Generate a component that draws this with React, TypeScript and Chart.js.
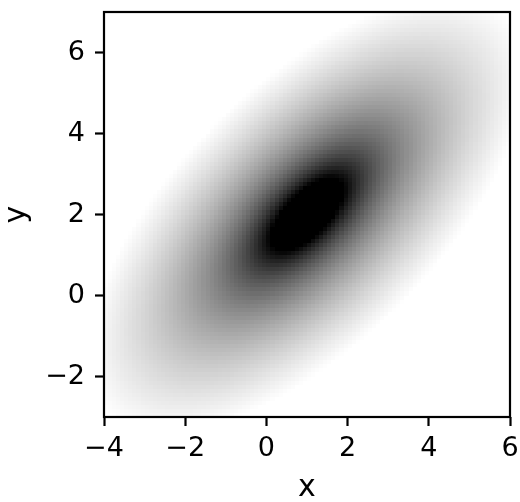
import React, { useEffect, useRef } from "react";
import { Chart, registerables } from "chart.js";

Chart.register(...registerables);

// Axis extents and tick labels
const xRange = [-4, 6];
const yRange = [-3, 7];
const xTicks = [-4, -2, 0, 2, 4, 6];
const yTicks = [-2, 0, 2, 4, 6];

// Density field parameters
const gridCells = [100, 100];
const centre = [1, 2];
const correlation = 0.65;
const blackRadius = 0.9; // Mahalanobis radius where the shading saturates to black
const whiteRadius = 5.4; // radius where it fades to white

function shade(x: number, y: number): number {
  const u = x - centre[0];
  const v = y - centre[1];
  const r = correlation;
  const d2 = (u * u - 2 * r * u * v + v * v) / (1 - r * r);
  const d = Math.sqrt(d2);
  if (d <= blackRadius) return 1;
  if (d >= whiteRadius) return 0;
  return Math.log(whiteRadius / d) / Math.log(whiteRadius / blackRadius);
}

const fmt = (v: number) => (v < 0 ? "\u2212" + Math.abs(v) : String(v));

const heatmapPlugin = {
  id: "heatmap",
  beforeDatasetsDraw(chart: any) {
    const { ctx, chartArea, scales } = chart;
    const xs = scales.x;
    const ys = scales.y;
    ctx.save();
    ctx.beginPath();
    ctx.rect(chartArea.left, chartArea.top, chartArea.right - chartArea.left, chartArea.bottom - chartArea.top);
    ctx.clip();
    const [nx, ny] = gridCells;
    const dx = (xRange[1] - xRange[0]) / nx;
    const dy = (yRange[1] - yRange[0]) / ny;
    for (let i = 0; i < nx; i++) {
      const x0 = xRange[0] + i * dx;
      const px0 = Math.round(xs.getPixelForValue(x0));
      const px1 = Math.round(xs.getPixelForValue(x0 + dx));
      for (let j = 0; j < ny; j++) {
        const y0 = yRange[0] + j * dy;
        const py0 = Math.round(ys.getPixelForValue(y0));
        const py1 = Math.round(ys.getPixelForValue(y0 + dy));
        const k = shade(x0 + dx / 2, y0 + dy / 2);
        const g = Math.round(255 * (1 - k));
        ctx.fillStyle = `rgb(${g},${g},${g})`;
        ctx.fillRect(px0, py1, px1 - px0, py0 - py1);
      }
    }
    ctx.restore();
  },
  afterDatasetsDraw(chart: any) {
    const { ctx, chartArea } = chart;
    ctx.save();
    ctx.strokeStyle = "#000";
    ctx.lineWidth = 2.2;
    ctx.strokeRect(chartArea.left, chartArea.top, chartArea.right - chartArea.left, chartArea.bottom - chartArea.top);
    ctx.restore();
  },
};

const tickFont = { family: "DejaVu Sans", size: 27 };
const titleFont = { family: "DejaVu Sans", size: 30, lineHeight: 1 };

export default function App() {
  const ref = useRef<HTMLCanvasElement | null>(null);
  useEffect(() => {
    if (!ref.current) return;
    const chart = new Chart(ref.current, {
      type: "scatter",
      data: { datasets: [{ data: [] }] },
      options: {
        animation: false,
        responsive: false,
        devicePixelRatio: 1,
        layout: { padding: { left: 0, right: 10, top: 12, bottom: 0 } },
        plugins: { legend: { display: false }, tooltip: { enabled: false } },
        scales: {
          x: {
            type: "linear",
            min: xRange[0],
            max: xRange[1],
            afterBuildTicks: (s: any) => {
              s.ticks = xTicks.map((v) => ({ value: v }));
            },
            afterFit: (s: any) => {
              s.height = 85;
              s.paddingLeft = 0;
              s.paddingRight = 0;
            },
            border: { display: false },
            grid: { drawOnChartArea: false, drawTicks: true, tickLength: 9, tickWidth: 2.2, tickColor: "#000" },
            ticks: { color: "#000", font: tickFont, padding: 7, maxRotation: 0, autoSkip: false, callback: (v: any) => fmt(Number(v)) },
            title: { display: true, text: "x", color: "#000", font: titleFont, padding: { top: 0, bottom: -1 } },
          },
          y: {
            type: "linear",
            min: yRange[0],
            max: yRange[1],
            afterBuildTicks: (s: any) => {
              s.ticks = yTicks.map((v) => ({ value: v }));
            },
            afterFit: (s: any) => {
              s.width = 104;
              s.paddingTop = 0;
              s.paddingBottom = 0;
            },
            border: { display: false },
            grid: { drawOnChartArea: false, drawTicks: true, tickLength: 9, tickWidth: 2.2, tickColor: "#000" },
            ticks: { color: "#000", font: { ...tickFont, lineHeight: 0.8 }, padding: 10, autoSkip: false, callback: (v: any) => fmt(Number(v)) },
            title: { display: true, text: "y", color: "#000", font: titleFont, padding: { top: 2, bottom: 0 } },
          },
        },
      },
      plugins: [heatmapPlugin],
    } as any);
    return () => chart.destroy();
  }, []);
  return (
    <div style={{ position: "absolute", left: 0, top: 0, width: 520, height: 502, background: "#fff" }}>
      <canvas ref={ref} width={520} height={502} />
    </div>
  );
}
